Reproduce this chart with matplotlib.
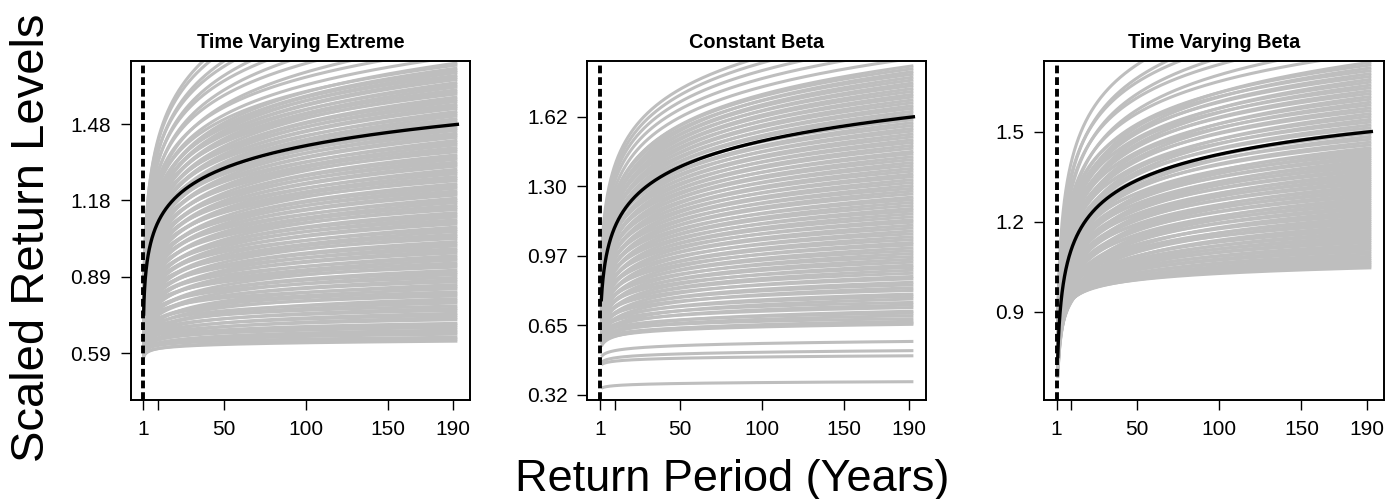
import numpy as np
import matplotlib
matplotlib.use("Agg")
import matplotlib.pyplot as plt

plt.rcParams['font.family'] = ['Liberation Sans', 'DejaVu Sans']

# ---------------- data ----------------
titles = ["Time Varying Extreme", "Constant Beta", "Time Varying Beta"]

# per-curve 2-year and 190-year return levels (gray curves)
tve_rl190 = [0.637, 0.645, 0.652, 0.664, 0.672, 0.680, 0.690, 0.699, 0.706, 0.720,
             0.728, 0.737, 0.745, 0.756, 0.764, 0.773, 0.785, 0.793, 0.801, 0.812,
             0.820, 0.828, 0.840, 0.848, 0.856, 0.867, 0.875, 0.884, 0.895, 0.903,
             0.912, 0.924, 0.932, 0.940, 0.951, 0.959, 0.968, 0.979, 0.987, 0.995,
             1.006, 1.014, 1.023, 1.035, 1.043, 1.051, 1.062, 1.070, 1.079, 1.091,
             1.099, 1.107, 1.118, 1.126, 1.135, 1.147, 1.155, 1.163, 1.174, 1.182,
             1.191, 1.203, 1.211, 1.219, 1.230, 1.238, 1.247, 1.259, 1.267, 1.275,
             1.286, 1.294, 1.303, 1.315, 1.323, 1.331, 1.342, 1.350, 1.359, 1.371,
             1.379, 1.387, 1.398, 1.406, 1.415, 1.427, 1.435, 1.443, 1.454, 1.462,
             1.471, 1.483, 1.491, 1.499, 1.510, 1.518, 1.527, 1.539, 1.547, 1.555,
             1.566, 1.574, 1.583, 1.595, 1.603, 1.611, 1.622, 1.630, 1.639, 1.651,
             1.659, 1.667, 1.678, 1.686, 1.695, 1.707, 1.715,
             1.74, 1.77, 1.80, 1.83, 1.87, 1.90, 1.94, 1.97, 2.01, 2.05, 2.09]
tve_rl2 = [0.590, 0.585, 0.600, 0.598, 0.604, 0.596, 0.612, 0.605, 0.615, 0.625,
           0.600, 0.630, 0.612, 0.640, 0.618, 0.650, 0.628, 0.655, 0.615, 0.668,
           0.630, 0.660, 0.642, 0.690, 0.625, 0.672, 0.650, 0.700, 0.640, 0.680,
           0.662, 0.715, 0.648, 0.690, 0.675, 0.720, 0.660, 0.705, 0.685, 0.735,
           0.665, 0.712, 0.694, 0.745, 0.680, 0.722, 0.700, 0.755, 0.690, 0.735,
           0.712, 0.765, 0.700, 0.745, 0.725, 0.775, 0.705, 0.755, 0.735, 0.790,
           0.720, 0.765, 0.745, 0.800, 0.728, 0.772, 0.752, 0.812, 0.735, 0.785,
           0.765, 0.822, 0.748, 0.795, 0.775, 0.835, 0.760, 0.808, 0.786, 0.845,
           0.770, 0.818, 0.798, 0.858, 0.780, 0.830, 0.808, 0.868, 0.792, 0.842,
           0.820, 0.880, 0.805, 0.852, 0.830, 0.892, 0.815, 0.865, 0.842, 0.902,
           0.828, 0.875, 0.855, 0.915, 0.840, 0.888, 0.866, 0.925, 0.852, 0.898,
           0.878, 0.935, 0.864, 0.910, 0.890, 0.945, 0.875,
           0.92, 0.95, 0.90, 0.96, 0.93, 0.98, 0.95, 1.00, 0.97, 1.01, 1.00]

cb_rl190 = [0.382, 0.503, 0.527, 0.570,
            0.650, 0.656, 0.664, 0.676, 0.690, 0.702, 0.711, 0.728, 0.740, 0.752,
            0.768, 0.780, 0.791, 0.808, 0.820, 0.834, 0.846, 0.862, 0.873, 0.888,
            0.902, 0.915, 0.926, 0.940, 0.953, 0.966, 0.980, 0.993, 1.006, 1.020,
            1.031, 1.045, 1.058, 1.072, 1.085, 1.099, 1.112, 1.126, 1.137, 1.151,
            1.165, 1.178, 1.190, 1.204, 1.218, 1.231, 1.243, 1.258, 1.271, 1.284,
            1.297, 1.311, 1.324, 1.338, 1.350, 1.364, 1.377, 1.391, 1.404, 1.418,
            1.431, 1.445, 1.456, 1.471, 1.484, 1.498, 1.510, 1.524, 1.537, 1.551,
            1.563, 1.577, 1.590, 1.604, 1.616, 1.630, 1.643, 1.657, 1.669, 1.683,
            1.696, 1.710, 1.722, 1.736, 1.749, 1.763, 1.775, 1.789, 1.802, 1.816,
            1.828, 1.842, 1.855,
            1.89, 1.93, 1.97, 2.01, 2.04]
cb_rl2 = [0.352, 0.462, 0.472, 0.500,
          0.560, 0.572, 0.548, 0.585, 0.565, 0.590, 0.560, 0.600, 0.575, 0.612,
          0.570, 0.610, 0.592, 0.630, 0.585, 0.622, 0.602, 0.645, 0.595, 0.635,
          0.615, 0.660, 0.608, 0.650, 0.630, 0.672, 0.620, 0.662, 0.642, 0.688,
          0.632, 0.675, 0.655, 0.700, 0.645, 0.690, 0.668, 0.715, 0.658, 0.702,
          0.680, 0.728, 0.670, 0.716, 0.695, 0.742, 0.684, 0.730, 0.708, 0.755,
          0.696, 0.742, 0.722, 0.770, 0.710, 0.758, 0.735, 0.782, 0.722, 0.770,
          0.748, 0.798, 0.738, 0.785, 0.762, 0.810, 0.750, 0.798, 0.776, 0.825,
          0.765, 0.812, 0.790, 0.838, 0.778, 0.826, 0.805, 0.852, 0.792, 0.840,
          0.818, 0.866, 0.805, 0.852, 0.832, 0.880, 0.820, 0.866, 0.845, 0.894,
          0.832, 0.880, 0.860,
          0.90, 0.93, 0.95, 0.96, 0.98]

tvb_rl190 = [1.046, 1.052, 1.058, 1.064, 1.070, 1.077, 1.084, 1.092, 1.100, 1.108,
             1.115, 1.122, 1.130,
             1.137, 1.144, 1.151, 1.158, 1.165, 1.172, 1.179, 1.186, 1.193, 1.200,
             1.207, 1.214, 1.221, 1.228, 1.235, 1.242, 1.249, 1.256, 1.263, 1.270,
             1.277, 1.284, 1.291, 1.298, 1.305, 1.312, 1.319, 1.326, 1.333, 1.340,
             1.347, 1.354, 1.361, 1.368, 1.375, 1.382, 1.389, 1.396, 1.403, 1.410,
             1.417, 1.424, 1.431, 1.438, 1.445,
             1.455, 1.464, 1.474, 1.483, 1.493, 1.502, 1.512, 1.521, 1.531, 1.540,
             1.550, 1.559, 1.569, 1.578, 1.588, 1.597, 1.607, 1.616, 1.626, 1.635,
             1.645, 1.654, 1.664, 1.673, 1.683, 1.692, 1.702, 1.711, 1.721, 1.730,
             1.76, 1.79, 1.82, 1.85, 1.88, 1.91, 1.95]
tvb_rl2 = [0.870, 0.855, 0.862, 0.840, 0.850, 0.828, 0.845, 0.815, 0.835, 0.805,
           0.830, 0.790, 0.822,
           0.780, 0.812, 0.760, 0.800, 0.748, 0.795, 0.770, 0.740, 0.805, 0.755,
           0.785, 0.730, 0.800, 0.765, 0.720, 0.790, 0.750, 0.812, 0.735, 0.780,
           0.715, 0.800, 0.760, 0.825, 0.742, 0.790, 0.722, 0.810, 0.770, 0.835,
           0.750, 0.798, 0.730, 0.820, 0.778, 0.845, 0.758, 0.805, 0.738, 0.830,
           0.785, 0.855, 0.765, 0.815, 0.745,
           0.840, 0.792, 0.865, 0.772, 0.825, 0.755, 0.850, 0.800, 0.875, 0.780,
           0.835, 0.765, 0.860, 0.810, 0.885, 0.790, 0.845, 0.775, 0.870, 0.820,
           0.895, 0.800, 0.855, 0.785, 0.880, 0.830, 0.905, 0.810, 0.865, 0.795,
           0.890, 0.840, 0.915, 0.870, 0.940, 0.900, 0.960]

# black (central) curves: 2-year and 190-year return levels
mean_rl2 = [0.862, 0.778, 0.796]
mean_rl190 = [1.477, 1.617, 1.499]

# GEV shape per panel, first and last return period drawn
shape_xi = [0.0, 0.0, -0.1]
period_start = [1.2, 1.9, 1.7]
period_end = 192.5

x_ticks = [1, 10, 50, 100, 150, 190]
x_tick_labels = ["1", "", "50", "100", "150", "190"]
y_ticks = [[0.59, 0.8867, 1.1833, 1.48],
           [0.32, 0.645, 0.97, 1.295, 1.62],
           [0.9, 1.2, 1.5]]
y_tick_labels = [["0.59", "0.89", "1.18", "1.48"],
                 ["0.32", "0.65", "0.97", "1.30", "1.62"],
                 ["0.9", "1.2", "1.5"]]
y_limits = [(0.4086, 1.7247), (0.2966, 1.880), (0.6057, 1.7357)]
x_limits = (-6.68, 200.2)

gray_rl2 = [tve_rl2, cb_rl2, tvb_rl2]
gray_rl190 = [tve_rl190, cb_rl190, tvb_rl190]


def reduced(T, xi):
    yp = -np.log1p(-1.0 / np.asarray(T, dtype=float))
    if xi == 0:
        return -np.log(yp)
    return (yp ** (-xi) - 1.0) / xi


def curve(T, r2, r190, xi):
    g2 = reduced(2.0, xi)
    g190 = reduced(190.0, xi)
    sigma = (r190 - r2) / (g190 - g2)
    return r2 + sigma * (reduced(T, xi) - g2)


# ---------------- figure ----------------
W, H = 1398, 499
fig = plt.figure(figsize=(W / 100, H / 100), dpi=100)

boxes = [(130.7, 470.0), (587.3, 926.0), (1044.0, 1384.0)]
top_px, bot_px = 61.0, 400.0

gray = "#BEBEBE"
for i in range(3):
    l, r = boxes[i]
    ax = fig.add_axes([l / W, 1 - bot_px / H, (r - l) / W, (bot_px - top_px) / H])
    T = np.geomspace(period_start[i], period_end, 700)
    xi = shape_xi[i]
    for r2, r190 in zip(gray_rl2[i], gray_rl190[i]):
        ax.plot(T, curve(T, r2, r190, xi), color=gray, lw=2.2, solid_capstyle='butt', zorder=1)
    ax.plot(T, curve(T, mean_rl2[i], mean_rl190[i], xi), color="black", lw=2.4, zorder=3)
    ax.axvline(1, color="black", lw=2.8, linestyle=(0, (2.0, 1.0)), zorder=4)

    ax.set_xlim(*x_limits)
    ax.set_ylim(*y_limits[i])
    ax.set_xticks(x_ticks)
    ax.set_xticklabels(x_tick_labels)
    ax.set_yticks(y_ticks[i])
    ax.set_yticklabels(y_tick_labels[i])
    ax.tick_params(direction='out', length=7.2, width=1.0, labelsize=15, pad=7.0,
                   color='black', labelcolor='black')
    for s in ax.spines.values():
        s.set_linewidth(1.4)
        s.set_color('black')
    ax.set_title(titles[i], fontsize=14.3, fontweight='bold', pad=9.2)

fig.text(32.5 / W, 1 - 238 / H, "Scaled Return Levels", rotation=90,
         ha='center', va='center', fontsize=34)
fig.text(732 / W, 1 - 491 / H, "Return Period (Years)", ha='center', va='baseline',
         fontsize=32.5)

fig.savefig("out.png", dpi=100)
